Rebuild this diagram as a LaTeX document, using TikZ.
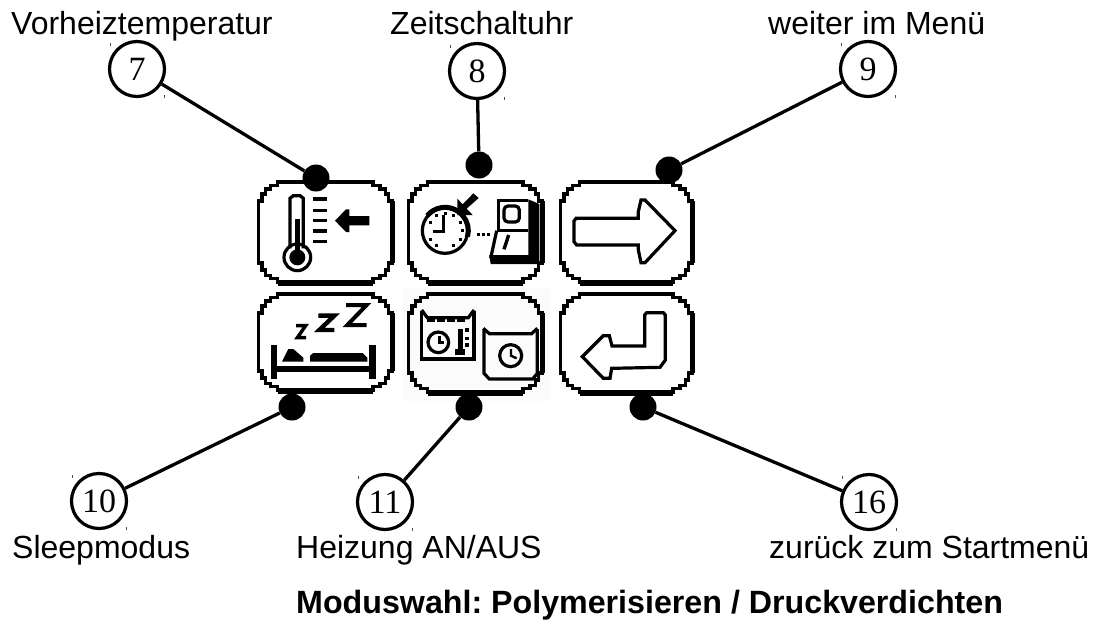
\documentclass[tikz,border=0pt]{standalone}
\usepackage{fontspec}
\setmainfont{Liberation Sans}
\newfontfamily\numfont{Liberation Serif}
\frenchspacing
\tikzset{
  x=1pt,y=-1pt,
  lab/.style={anchor=base west,inner sep=0pt,font=\fontsize{32}{36}\selectfont,text=black},
  titlelab/.style={anchor=base west,inner sep=0pt,font=\fontsize{32.2}{36}\selectfont\bfseries,text=black},
  numc/.style={circle,draw=black,line width=3.2pt,minimum size=55pt,inner sep=0pt,font=\numfont\fontsize{34}{36}\selectfont,fill=white},
  dotn/.style={circle,fill=black,minimum size=27pt,inner sep=0pt},
  conn/.style={line width=3.3pt,black},
  btn/.style={draw=black,line width=3.4pt,miter limit=2},
  ic/.style={draw=black,line width=3.2pt,line join=miter},
  tickm/.style={draw=black!70,line width=0.8pt},
  zoomA/.style={shift={(240,160)},x=0.33333pt,y=-0.33333pt},
  zoomB/.style={shift={(400,160)},x=0.33333pt,y=-0.33333pt},
  zoomC/.style={shift={(240,285)},x=0.33333pt,y=-0.33333pt},
  zoomD/.style={shift={(400,285)},x=0.33333pt,y=-0.33333pt},
  zoomE/.style={shift={(550,160)},x=0.33333pt,y=-0.33333pt},
}
% left, top, right, bottom of the centre line of the frame
\newcommand{\btnframe}[4]{%
  \pgfmathsetmacro{\bw}{#3-#1-38}\pgfmathsetmacro{\bh}{#4-#2-38}%
  \draw[btn] (#1,#2) ++(19,0) -- ++(\bw,0) -- ++(0,3.4) -- ++(7,0) -- ++(0,3.4) -- ++(5.2,0) -- ++(0,5.2) -- ++(3.4,0) -- ++(0,7) -- ++(3.4,0)
    -- ++(0,\bh) -- ++(-3.4,0) -- ++(0,7) -- ++(-3.4,0) -- ++(0,5.2) -- ++(-5.2,0) -- ++(0,3.4) -- ++(-7,0) -- ++(0,3.4)
    -- ++(-\bw,0) -- ++(0,-3.4) -- ++(-7,0) -- ++(0,-3.4) -- ++(-5.2,0) -- ++(0,-5.2) -- ++(-3.4,0) -- ++(0,-7) -- ++(-3.4,0)
    -- ++(0,-\bh) -- ++(3.4,0) -- ++(0,-7) -- ++(3.4,0) -- ++(0,-5.2) -- ++(5.2,0) -- ++(0,-3.4) -- ++(7,0) -- ++(0,-3.4) -- cycle;
  \fill[black] (#3,#2) ++(-1,19) rectangle ++(4,\bh);
  \fill[black] (#1,#4) ++(19,-1) rectangle ++(\bw,5);
}
\newcommand{\tickpair}[2]{%
  \draw[tickm] (#1,#2) ++(-27,-26) -- ++(0,3);
  \draw[tickm] (#1,#2) ++(27,26) -- ++(0,3);
}
\begin{document}
\begin{tikzpicture}
\useasboundingbox (0,0) rectangle (1094,623);
\fill[white] (0,0) rectangle (1094,623);

% faint speckled ground of the heating button
\fill[black!1.5] (403,288) rectangle (550,401);

% frames
\btnframe{258.5}{182}{392}{282}
\btnframe{408.5}{182}{542}{282}
\btnframe{560.5}{182}{692}{282}
\btnframe{258.5}{294}{392}{390}
\btnframe{408.5}{294}{542}{392}
\btnframe{560.5}{294}{692}{392}

% thermometer icon
\begin{scope}[zoomA]
  \draw[ic] (150,265) -- (150,115) -- (160,107) -- (180,107) -- (190,115) -- (190,265);
  \draw[ic] (172,292) circle (40);
  \fill[black] (172,292) circle (24);
  \fill[black] (166,178) rectangle (179,292);
  \foreach \yy in {117,152,182,213,245}{\fill[black] (220,\yy-5) rectangle (262,\yy+5);}
  \fill[black] (285,182) -- (318,148) -- (328,148) -- (328,168) -- (388,168) -- (388,196) -- (328,196) -- (328,216) -- (318,216) -- cycle;
\end{scope}

% timer icon
\begin{scope}[zoomB]
  \draw[ic] (135,212) circle (68);
  \draw[black,line width=5pt] (135,212) ++(-40:70) arc (-40:-140:70);
  \draw[black,line width=5pt] (135,212) ++(-40:70) arc (-40:15:70);
  \draw[black,line width=3pt] (130,165) -- (130,215) -- (98,215);
  \foreach \aa in {30,60,120,150,210,240,270,300,330,0}{\fill[black] (135,212) ++(\aa:52) ++(-4,-4) rectangle ++(9,9);}
  \fill[black] (172,116) -- (172,165) -- (218,165) -- (200,146) -- (236,114) -- (220,100) -- (188,133) -- cycle;
  \foreach \xx in {232,247,262}{\fill[black] (\xx,218) rectangle ++(9,9);}
  \fill[black] (385,118) -- (418,132) -- (418,312) -- (272,312) -- (268,285) -- (385,285) -- cycle;
  \draw[ic] (385,122) -- (295,122) -- (295,210);
  \draw[ic,rounded corners=4pt] (312,138) rectangle (358,186);
  \fill[white] (292,214) -- (382,214) -- (382,283) -- (275,283) -- cycle;
  \draw[ic] (290,212) -- (272,295);
  \draw[ic] (290,212) -- (385,212);
  \draw[black,line width=3.4pt] (326,225) -- (312,268);
\end{scope}

% sleep icon
\begin{scope}[zoomC]
  \draw[black,line width=3.4pt,line join=miter] (168,122) -- (197,122) -- (172,158) -- (198,158);
  \draw[black,line width=4.4pt,line join=miter] (235,92) -- (283,92) -- (238,135) -- (283,135);
  \draw[black,line width=4pt,line join=miter] (318,60) -- (380,60) -- (322,120) -- (380,120);
  \fill[black] (93,180) rectangle (112,282);
  \fill[black] (388,180) rectangle (407,282);
  \fill[black] (112,243) rectangle (388,262);
  \fill[black] (126,230) -- (145,192) -- (160,192) -- (190,218) -- (190,230) -- cycle;
  \fill[black] (210,230) -- (210,212) -- (220,204) -- (368,204) -- (382,218) -- (382,230) -- cycle;
\end{scope}

% heating icon
\begin{scope}[zoomD]
  \draw[ic] (65,75) -- (82,98) -- (205,98) -- (222,75);
  \draw[ic] (65,78) -- (65,222) -- (222,222) -- (222,78);
  \foreach \xx in {82,112,142,172}{\fill[black] (\xx,100) rectangle ++(22,11);}
  \draw[ic] (115,172) circle (31);
  \draw[black,line width=2.4pt] (118,152) -- (118,172) -- (132,172);
  \fill[black] (173,132) rectangle (189,195);
  \fill[black] (165,192) rectangle (195,210);
  \foreach \yy in {130,155,175}{\fill[black] (196,\yy) rectangle ++(10,10);}
  \draw[ic] (250,130) -- (268,146) -- (395,146) -- (412,130);
  \draw[ic] (252,132) -- (252,265) -- (268,282) -- (398,282) -- (412,265) -- (412,132);
  \draw[ic] (332,212) circle (33);
  \draw[black,line width=2.4pt] (333,192) -- (333,212) -- (350,220);
\end{scope}

% arrows
\begin{scope}[zoomE]
  \draw[ic] (78,175) -- (265,175) -- (265,155) -- (273,120) -- (285,120) -- (375,212) -- (285,308) -- (273,308) -- (265,270) -- (265,255) -- (80,255) -- (72,245) -- (72,183) -- cycle;
  \draw[ic] (290,458) -- (340,458) -- (346,465) -- (346,600) -- (330,622) -- (185,625) -- (180,655) -- (160,655) -- (97,590) -- (160,527) -- (178,527) -- (186,558) -- (284,558) -- (284,465) -- cycle;
\end{scope}

% number circles
\node[numc] (c7) at (137,69) {7};
\node[numc] (c8) at (477,71) {8};
\node[numc] (c9) at (868,69) {9};
\node[numc] (c10) at (99,501) {10};
\node[numc] (c11) at (385,502) {11};
\node[numc] (c16) at (869,502) {16};
\tickpair{137}{69}\tickpair{477}{71}\tickpair{868}{69}
\tickpair{99}{501}\tickpair{385}{502}\tickpair{869}{502}

% dots
\node[dotn] (d7) at (316,178) {};
\node[dotn] (d8) at (479,165) {};
\node[dotn] (d9) at (669,170) {};
\node[dotn] (d10) at (292,407) {};
\node[dotn] (d11) at (469,407) {};
\node[dotn] (d16) at (643,407) {};

% connectors
\foreach \cc/\dd in {c7/d7,c8/d8,c9/d9,c10/d10,c11/d11,c16/d16}{\draw[conn] (\cc) -- (\dd);}

% labels
\node[lab] (t7) at (11,35) {Vorheiztemperatur};
\node[lab] (t8) at (390,35) {Zeitschaltuhr};
\node[lab] (t9) at (768,35) {weiter im Menü};
\node[lab] (t10) at (12,558) {Sleepmodus};
\node[lab] (t11) at (296,558) {Heizung AN/AUS};
\node[lab] (t16) at (769,558) {zurück zum Startmenü};
\node[titlelab] (tt) at (296,613) {Moduswahl: Polymerisieren / Druckverdichten};
\end{tikzpicture}
\end{document}
